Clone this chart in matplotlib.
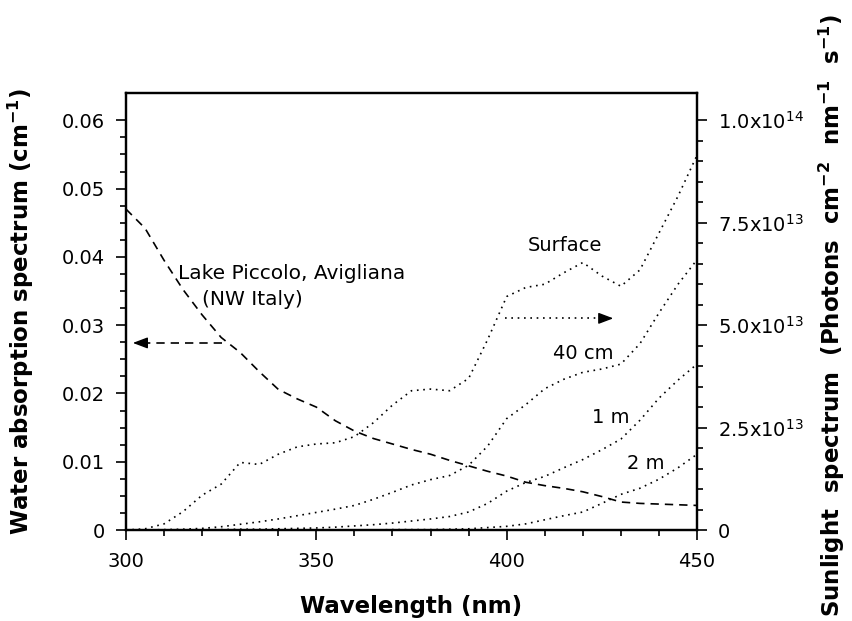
import math
import matplotlib
matplotlib.use("Agg")
import matplotlib.pyplot as plt
from matplotlib.ticker import FixedLocator, FuncFormatter

# wavelength grid (nm)
wavelength = [300, 305, 310, 315, 320, 325, 330, 335, 340, 345, 350,
              355, 360, 365, 370, 375, 380, 385, 390, 395, 400,
              405, 410, 415, 420, 425, 430, 435, 440, 445, 450]

# water absorption, Lake Piccolo (cm^-1)
absorption = [0.0470, 0.0442, 0.0395, 0.0352, 0.0315, 0.0282, 0.0260, 0.0232, 0.0206, 0.0192, 0.0180,
              0.0160, 0.0145, 0.0134, 0.0126, 0.0118, 0.0111, 0.0102, 0.0094, 0.0086, 0.0079,
              0.0070, 0.0065, 0.0061, 0.0056, 0.0049, 0.0041, 0.0039, 0.0038, 0.0037, 0.0036]

# sunlight spectra at depth, in units of 1e13 photons cm^-2 nm^-1 s^-1
surface = [0.0, 0.03, 0.15, 0.45, 0.85, 1.12, 1.65, 1.60, 1.85, 2.03, 2.10,
           2.13, 2.28, 2.62, 3.05, 3.40, 3.44, 3.40, 3.70, 4.65, 5.70,
           5.92, 6.00, 6.28, 6.53, 6.20, 5.95, 6.35, 7.25, 8.15, 9.15]
depth_40cm = [0.0, 0.0, 0.01, 0.02, 0.04, 0.08, 0.14, 0.20, 0.27, 0.35, 0.43,
              0.51, 0.60, 0.75, 0.92, 1.10, 1.23, 1.33, 1.58, 2.05, 2.72,
              3.06, 3.45, 3.68, 3.85, 3.93, 4.05, 4.55, 5.30, 6.00, 6.60]
depth_1m = [0.0, 0.0, 0.0, 0.0, 0.01, 0.01, 0.02, 0.02, 0.03, 0.04, 0.05,
            0.07, 0.10, 0.13, 0.17, 0.22, 0.27, 0.33, 0.44, 0.65, 0.95,
            1.16, 1.31, 1.52, 1.72, 1.96, 2.22, 2.68, 3.22, 3.66, 4.05]
depth_2m = [0.0, 0.0, 0.0, 0.0, 0.0, 0.0, 0.0, 0.0, 0.0, 0.0, 0.0,
            0.0, 0.0, 0.0, 0.01, 0.01, 0.01, 0.02, 0.03, 0.06, 0.09,
            0.15, 0.25, 0.35, 0.44, 0.65, 0.87, 1.02, 1.24, 1.52, 1.85]

plt.rcParams['font.family'] = 'DejaVu Sans'
plt.rcParams['mathtext.fontset'] = 'dejavusans'

fig = plt.figure(figsize=(8.53, 6.21), dpi=100)
ax = fig.add_axes([0.1477, 0.1465, 0.6695, 0.7037])
ax2 = ax.twinx()

dashes = (0, (5.0, 3.6))
dots = (0, (1, 2.8))

ax.plot(wavelength, absorption, color='black', lw=1.2, linestyle=dashes)
scale = 1e13
for series in (surface, depth_40cm, depth_1m, depth_2m):
    ax2.plot(wavelength, [v * scale for v in series], color='black', lw=1.2, linestyle=dots)

ax.set_xlim(300, 450)
ax.set_ylim(0, 0.064)
ax2.set_ylim(0, 0.064 / 0.06 * 1e14)

# ticks
ax.xaxis.set_major_locator(FixedLocator([300, 350, 400, 450]))
ax.xaxis.set_minor_locator(FixedLocator(range(300, 451, 10)))
ax.yaxis.set_major_locator(FixedLocator([0, 0.01, 0.02, 0.03, 0.04, 0.05, 0.06]))
ax.yaxis.set_minor_locator(FixedLocator([i * 0.0025 for i in range(25)]))
ax2.yaxis.set_major_locator(FixedLocator([0, 2.5e13, 5e13, 7.5e13, 1e14]))
ax2.yaxis.set_minor_locator(FixedLocator([i * 5e12 for i in range(21)]))

ax.yaxis.set_major_formatter(FuncFormatter(lambda v, _: '0' if v == 0 else f'{v:.2f}'))


def sci(v, _):
    if v == 0:
        return '0'
    e = int(math.floor(math.log10(v)))
    return f'{v / 10 ** e:.1f}x10$^{{{e}}}$'


ax2.yaxis.set_major_formatter(FuncFormatter(sci))

for a in (ax, ax2):
    for s in a.spines.values():
        s.set_linewidth(1.6)
    a.tick_params(which='major', direction='out', length=7, width=1.2, labelsize=14, pad=8)
    a.tick_params(which='minor', direction='out', length=4.5, width=1.2)
ax.tick_params(axis='x', pad=9)
ax.tick_params(top=False, right=False, which='both')

# axis titles
fig.text(0.5 * (0.1477 + 0.8172), 1 - 607 / 621, 'Wavelength (nm)', fontsize=16.5,
         fontweight='bold', ha='center', va='center')
fig.text(21 / 853, 1 - 311 / 621, 'Water absorption spectrum (cm$^{\\mathbf{-1}}$)', fontsize=16.5,
         fontweight='bold', rotation=90, ha='center', va='center')
fig.text(832 / 853, 1 - 617 / 621,
         'Sunlight  spectrum  (Photons  cm$^{\\mathbf{-2}}$  nm$^{\\mathbf{-1}}$  s$^{\\mathbf{-1}}$)',
         fontsize=16.5, fontweight='bold', rotation=90, ha='center', va='bottom')

# curve labels
ax.text(313.7, 0.0376, 'Lake Piccolo, Avigliana', fontsize=14.5, ha='left', va='center')
ax.text(320.0, 0.0337, '(NW Italy)', fontsize=14.5, ha='left', va='center')
ax.text(415.3, 0.0417, 'Surface', fontsize=14, ha='center', va='center')
ax.text(420.0, 0.0258, '40 cm', fontsize=14, ha='center', va='center')
ax.text(427.4, 0.0165, '1 m', fontsize=14, ha='center', va='center')
ax.text(436.6, 0.0098, '2 m', fontsize=14, ha='center', va='center')

# arrows pointing to the matching axis
head = dict(arrowstyle='-|>,head_length=0.45,head_width=0.17', color='black',
            lw=1.0, mutation_scale=20, shrinkA=0, shrinkB=0)
ax.plot([325.2, 303.0], [0.0274, 0.0274], color='black', lw=1.2, linestyle=dashes)
ax.annotate('', xy=(301.8, 0.0274), xytext=(303.0, 0.0274), arrowprops=head)
ax.plot([399.6, 426.5], [0.0310, 0.0310], color='black', lw=1.2, linestyle=dots)
ax.annotate('', xy=(428.0, 0.0310), xytext=(426.8, 0.0310), arrowprops=head)

fig.savefig('out.png', dpi=100)
